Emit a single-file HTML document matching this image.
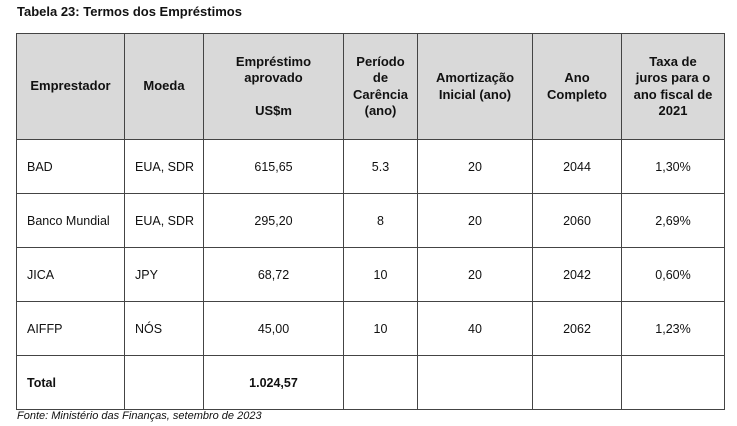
<!DOCTYPE html>
<html><head><meta charset="utf-8"><style>
body{margin:0;width:737px;height:426px;background:#fff;position:relative;font-family:"Liberation Sans",sans-serif;color:#111;overflow:hidden}
.title{position:absolute;left:17px;top:4px;font-size:13px;font-weight:bold}
table{position:absolute;left:16px;top:33px;border-collapse:collapse;table-layout:fixed;font-size:12.5px}
td,th{border:1.5px solid #444;padding:0;text-align:center;vertical-align:middle}
th{background:#d9d9d9;font-weight:bold;height:105px;line-height:16.5px;font-size:13px}
td{height:53px}
td.l{text-align:left;padding-left:10px}
.src{position:absolute;left:17px;top:410px;font-size:11px;font-style:italic}
</style></head><body>
<div class="title">Tabela 23: Termos dos Empréstimos</div>
<table>
<colgroup><col style="width:108px"><col style="width:79px"><col style="width:140px"><col style="width:74px"><col style="width:115px"><col style="width:89px"><col style="width:103px"></colgroup>
<tr>
<th>Emprestador</th>
<th>Moeda</th>
<th>Empréstimo<br>aprovado<br><br>US$m</th>
<th>Período<br>de<br>Carência<br>(ano)</th>
<th>Amortização<br>Inicial (ano)</th>
<th>Ano<br>Completo</th>
<th>Taxa de<br>juros para o<br>ano fiscal de<br>2021</th>
</tr>
<tr><td class="l">BAD</td><td class="l">EUA, SDR</td><td>615,65</td><td>5.3</td><td>20</td><td>2044</td><td>1,30%</td></tr>
<tr><td class="l">Banco Mundial</td><td class="l">EUA, SDR</td><td>295,20</td><td>8</td><td>20</td><td>2060</td><td>2,69%</td></tr>
<tr><td class="l">JICA</td><td class="l">JPY</td><td>68,72</td><td>10</td><td>20</td><td>2042</td><td>0,60%</td></tr>
<tr><td class="l">AIFFP</td><td class="l">NÓS</td><td>45,00</td><td>10</td><td>40</td><td>2062</td><td>1,23%</td></tr>
<tr><td class="l" style="font-weight:bold">Total</td><td></td><td style="font-weight:bold">1.024,57</td><td></td><td></td><td></td><td></td></tr>
</table>
<div class="src">Fonte: Ministério das Finanças, setembro de 2023</div>
</body></html>
